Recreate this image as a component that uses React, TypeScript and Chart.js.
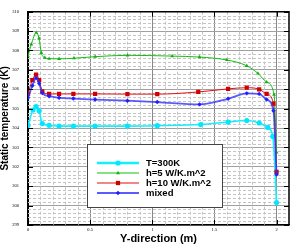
import React, { useEffect, useRef } from 'react';
import { Chart, registerables } from 'chart.js';
Chart.register(...registerables);

// ---- data ----
const xCyan = [0, 0.04, 0.065, 0.09, 0.115, 0.17, 0.25, 0.365, 0.54, 0.8, 1.04, 1.39, 1.61, 1.76, 1.86, 1.93, 1.97, 2.0];
const yCyan = [304.14, 304.93, 305.1, 304.89, 304.23, 304.14, 304.1, 304.1, 304.1, 304.1, 304.12, 304.18, 304.31, 304.39, 304.26, 304.03, 303.57, 300.16];

const xGreen = [0, 0.027, 0.067, 0.089, 0.107, 0.135, 0.17, 0.25, 0.37, 0.54, 0.8, 1.16, 1.38, 1.6, 1.76, 1.85, 1.92, 1.98, 2.0];
const yGreen = [307.71, 308.32, 308.92, 308.62, 307.88, 307.63, 307.58, 307.57, 307.6, 307.68, 307.75, 307.71, 307.66, 307.51, 307.21, 306.82, 306.37, 305.72, 302.74];

const xRed = [0, 0.035, 0.065, 0.09, 0.115, 0.17, 0.25, 0.365, 0.54, 0.8, 1.04, 1.37, 1.61, 1.76, 1.86, 1.92, 1.975, 2.0];
const yRed = [305.76, 306.47, 306.75, 306.47, 305.89, 305.76, 305.76, 305.76, 305.76, 305.75, 305.75, 305.86, 306.02, 306.08, 306.0, 305.76, 305.26, 301.74];

const xBlue = [0, 0.035, 0.065, 0.09, 0.115, 0.17, 0.25, 0.365, 0.54, 0.8, 1.04, 1.38, 1.61, 1.76, 1.86, 1.92, 1.975, 2.0];
const yBlue = [305.56, 306.18, 306.58, 306.3, 305.81, 305.64, 305.56, 305.52, 305.47, 305.41, 305.34, 305.22, 305.51, 305.79, 305.76, 305.47, 304.89, 301.6];

const seriesNames = ['T=300K', 'h=5 W/K.m^2', 'h=10 W/K.m^2', 'mixed'];
const xTickLabels = [0, 0.5, 1, 1.5, 2];
const yTickLabels = [299, 300, 301, 302, 303, 304, 305, 306, 307, 308, 309, 310];

const pts = (xs: number[], ys: number[]) => xs.map((x, i) => ({ x, y: ys[i] }));

const styles = [
  { line: '#10f0ff', point: '#00e8ff', lw: 1.6, shape: 'circle', r: 2.6, legLw: 2.4 },
  { line: '#10c010', point: '#10b010', lw: 1, shape: 'triangle', r: 2.2, legLw: 1.2 },
  { line: '#e01010', point: '#d00000', lw: 1, shape: 'rect', r: 3, legLw: 1.2 },
  { line: 'rgba(50,50,255,0.8)', point: '#2020ff', lw: 1.8, shape: 'rectRot', r: 2.2, legLw: 2.2 },
];

function drawMarker(ctx: CanvasRenderingContext2D, shape: string, x: number, y: number, r: number, color: string) {
  ctx.save();
  ctx.fillStyle = color;
  ctx.beginPath();
  if (shape === 'circle') {
    ctx.arc(x, y, r, 0, Math.PI * 2);
  } else if (shape === 'triangle') {
    ctx.moveTo(x, y - r);
    ctx.lineTo(x + r * 0.9, y + r * 0.6);
    ctx.lineTo(x - r * 0.9, y + r * 0.6);
    ctx.closePath();
  } else if (shape === 'rect') {
    const s = r * Math.SQRT1_2;
    ctx.rect(x - s, y - s, 2 * s, 2 * s);
  } else {
    ctx.moveTo(x, y - r);
    ctx.lineTo(x + r, y);
    ctx.lineTo(x, y + r);
    ctx.lineTo(x - r, y);
    ctx.closePath();
  }
  ctx.fill();
  ctx.restore();
}

const minorGrid = {
  id: 'minorGrid',
  beforeDatasetsDraw(chart: any) {
    const { ctx, chartArea, scales } = chart;
    const { left, right, top, bottom } = chartArea;
    const xs = scales.x, ys = scales.y;
    ctx.save();
    ctx.beginPath();
    ctx.rect(left, top, right - left, bottom - top);
    ctx.clip();
    ctx.strokeStyle = '#c4c4c4';
    ctx.lineWidth = 1;
    ctx.setLineDash([3, 2]);
    for (let i = 1; i < 21; i++) {
      if (i % 5 === 0) continue;
      const px = Math.round(xs.getPixelForValue(i / 10)) + 0.5;
      ctx.beginPath();
      ctx.moveTo(px, top);
      ctx.lineTo(px, bottom);
      ctx.stroke();
    }
    for (let i = 1; i < 55; i++) {
      if (i % 5 === 0) continue;
      const py = Math.round(ys.getPixelForValue(299 + i / 5)) + 0.5;
      ctx.beginPath();
      ctx.moveTo(left, py);
      ctx.lineTo(right, py);
      ctx.stroke();
    }
    ctx.restore();
  },
  afterDatasetsDraw(chart: any) {
    const { ctx, chartArea, scales } = chart;
    const { left, right, top, bottom } = chartArea;
    const xs = scales.x, ys = scales.y;
    ctx.save();
    // frame
    ctx.strokeStyle = '#000';
    ctx.lineWidth = 1.5;
    ctx.beginPath();
    ctx.moveTo(left, top);
    ctx.lineTo(right, top);
    ctx.lineTo(right, bottom);
    ctx.stroke();
    // inward ticks
    ctx.lineWidth = 1;
    const tl = 5;
    yTickLabels.forEach((v) => {
      const py = Math.round(ys.getPixelForValue(v)) + 0.5;
      ctx.beginPath();
      ctx.moveTo(left, py); ctx.lineTo(left + tl, py);
      ctx.moveTo(right, py); ctx.lineTo(right - tl, py);
      ctx.stroke();
    });
    xTickLabels.forEach((v) => {
      const px = Math.round(xs.getPixelForValue(v)) + 0.5;
      ctx.beginPath();
      ctx.moveTo(px, top); ctx.lineTo(px, top + tl);
      ctx.moveTo(px, bottom); ctx.lineTo(px, bottom - tl);
      ctx.stroke();
    });
    // legend
    const bx = 87.5, by = 144.5, bw = 135, bh = 63;
    ctx.fillStyle = '#fff';
    ctx.fillRect(bx, by, bw, bh);
    ctx.strokeStyle = '#444';
    ctx.lineWidth = 1;
    ctx.strokeRect(bx, by, bw, bh);
    ctx.font = 'bold 9.5px "Liberation Sans", Arial, sans-serif';
    ctx.textBaseline = 'middle';
    ctx.textAlign = 'left';
    seriesNames.forEach((name, i) => {
      const st = styles[i];
      const ry = 163 + i * 10;
      ctx.strokeStyle = st.line;
      ctx.lineWidth = st.legLw;
      ctx.beginPath();
      ctx.moveTo(97, ry);
      ctx.lineTo(139, ry);
      ctx.stroke();
      drawMarker(ctx, st.shape, 118, ry, st.r, st.point);
      ctx.fillStyle = '#000';
      ctx.fillText(name, 146, ry + 0.5);
    });
    ctx.restore();
  },
};

export default function App() {
  const ref = useRef<HTMLCanvasElement>(null);
  useEffect(() => {
    document.body.style.margin = '0';
    const mk = (i: number, data: { x: number; y: number }[]) => ({
      label: seriesNames[i],
      data,
      borderColor: styles[i].line,
      borderWidth: styles[i].lw,
      backgroundColor: styles[i].point,
      pointBackgroundColor: styles[i].point,
      pointBorderColor: styles[i].point,
      pointBorderWidth: 0,
      pointStyle: styles[i].shape as any,
      pointRadius: styles[i].r,
      cubicInterpolationMode: 'monotone' as const,
      fill: false,
    });
    const chart = new Chart(ref.current!, {
      type: 'line',
      data: {
        datasets: [
          mk(3, pts(xBlue, yBlue)),
          mk(2, pts(xRed, yRed)),
          mk(1, pts(xGreen, yGreen)),
          mk(0, pts(xCyan, yCyan)),
        ],
      },
      options: {
        animation: false,
        responsive: false,
        layout: { padding: { top: 4, right: 7, left: 0, bottom: 0 } },
        plugins: { legend: { display: false }, tooltip: { enabled: false } },
        scales: {
          x: {
            type: 'linear',
            min: 0,
            max: 2.1,
            afterFit: (s: any) => { s.height = 22; },
            ticks: {
              stepSize: 0.5,
              includeBounds: false,
              padding: 2,
              color: '#000',
              font: { family: '"Liberation Serif", serif', size: 4.5 },
              maxRotation: 0,
              callback: (v: any) => (xTickLabels.includes(Number(v)) ? String(v) : ''),
            },
            grid: { color: '#888', lineWidth: 1, drawTicks: false },
            border: { color: '#000', width: 1.5 },
            title: {
              display: true,
              text: 'Y-direction (m)',
              color: '#000',
              font: { family: '"Liberation Sans", Arial, sans-serif', size: 11, weight: 'bold', lineHeight: 1 },
              padding: { top: 0, bottom: 2.5 },
            },
          },
          y: {
            type: 'linear',
            min: 299,
            max: 310,
            afterFit: (s: any) => { s.width = 28; },
            ticks: {
              stepSize: 1,
              padding: 9,
              color: '#000',
              font: { family: '"Liberation Serif", serif', size: 4.5 },
              callback: (v: any) => (yTickLabels.includes(Number(v)) ? String(v) : ''),
            },
            grid: { color: '#a0a0a0', lineWidth: 1, drawTicks: false },
            border: { color: '#000', width: 2 },
            title: {
              display: true,
              text: 'Static temperature (K)',
              color: '#000',
              font: { family: '"Liberation Sans", Arial, sans-serif', size: 10, weight: 'bold', lineHeight: 1 },
              padding: { top: 0, bottom: 0 },
            },
          },
        },
      },
      plugins: [minorGrid],
    });
    return () => chart.destroy();
  }, []);
  return (
    <div style={{ width: 296, height: 247, position: 'relative' }}>
      <canvas ref={ref} width={296} height={247} style={{ width: 296, height: 247, display: 'block' }} />
    </div>
  );
}
